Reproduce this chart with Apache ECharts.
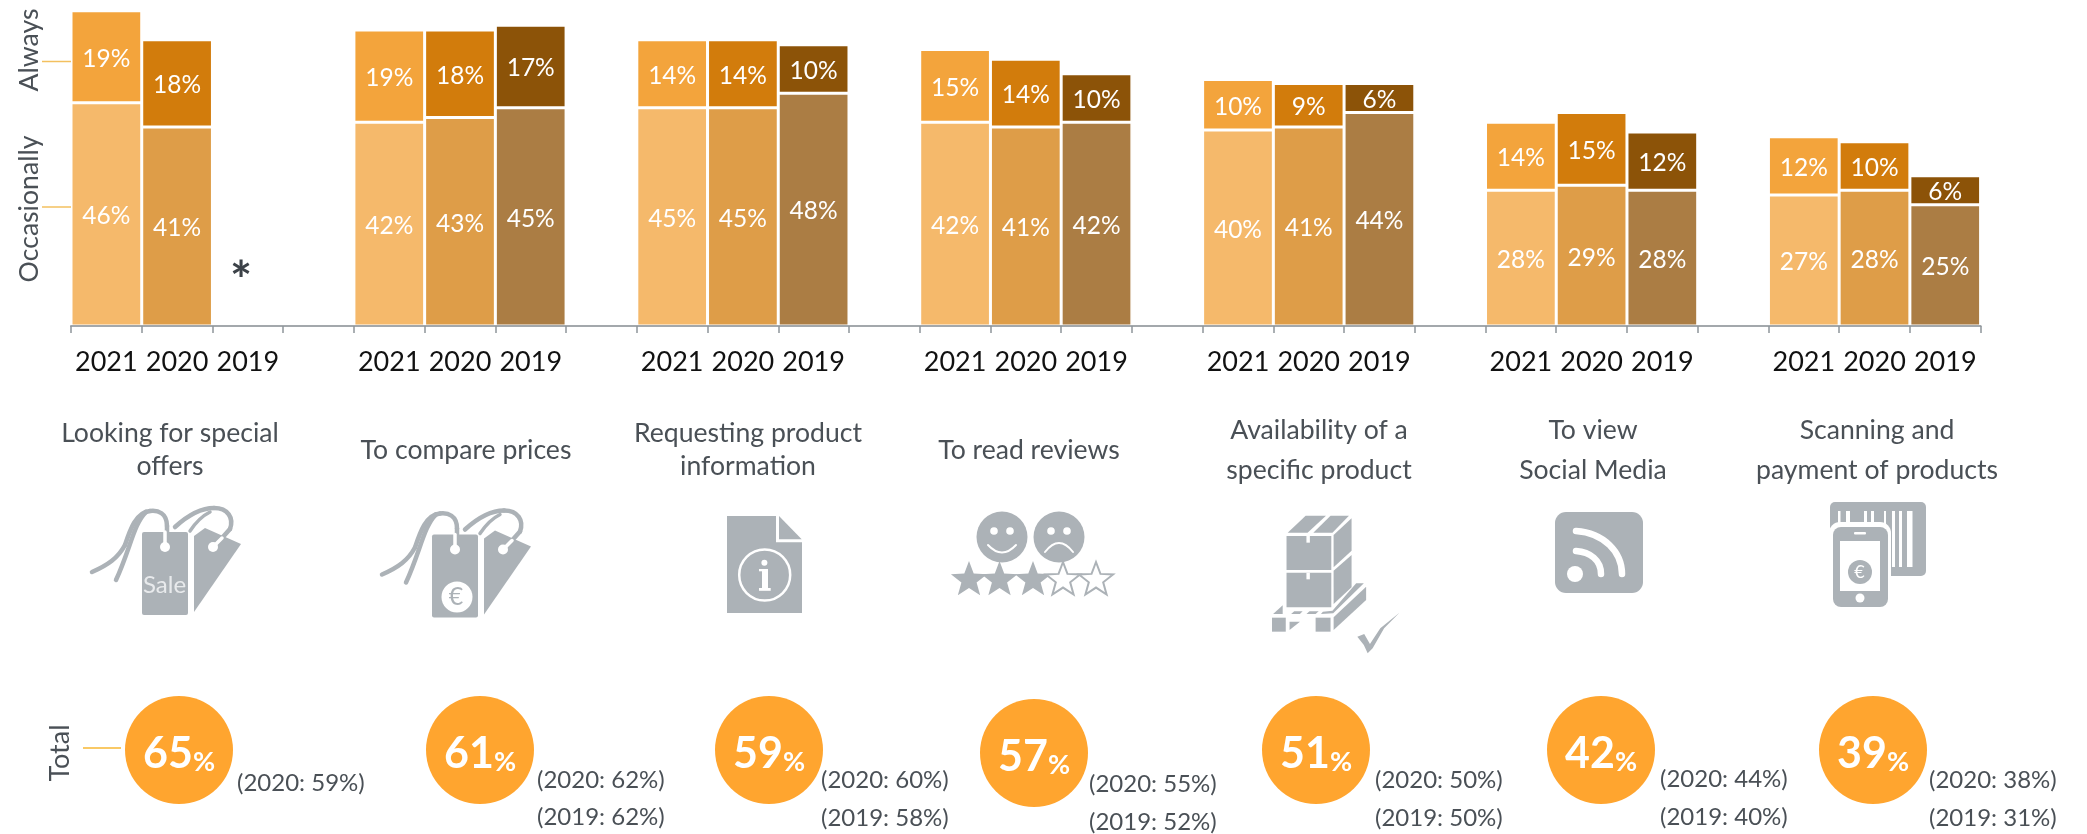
<!DOCTYPE html>
<html><head><meta charset="utf-8">
<style>html,body{margin:0;padding:0;background:#fff}#c{width:2087px;height:834px}</style>
<script src="https://cdn.jsdelivr.net/npm/echarts@6/dist/echarts.min.js"></script>
</head><body><div id="c"></div>
<script>
const years = ['2021','2020','2019'];
const occasionally = [[46,41,null],[42,43,45],[45,45,48],[42,41,42],[40.4,41,44],[28,29,28],[27,28,25]];
const always = [[19,18,null],[19,18,17],[14,14,10],[15,14,10],[10.4,9,6],[14,15,12],[12,10,6]];
const titles = [['Looking for special','offers'],['To compare prices'],['Requesting product','information'],['To read reviews'],['Availability of a','specific product'],['To view','Social Media'],['Scanning and','payment of products']];
const totals = [65,61,59,57,51,42,39];
const prev2020 = [59,62,60,55,50,44,38];
const prev2019 = [null,62,58,52,50,40,31];

const FONT='Lato', TXT='#4A5056', ICON='#ACB2B7';
const occColors={'2021':'#F5B96B','2020':'#DE9D48','2019':'#AB7D44'};
const alwColors={'2021':'#F3A43C','2020':'#D27C0C','2019':'#8C5308'};

const cats=[],occData=[],alwData=[];
occasionally.forEach((g,i)=>{
  years.forEach((y,j)=>{
    cats.push(y);
    occData.push({value:g[j],itemStyle:{color:occColors[y]}});
    alwData.push({value:always[i][j],itemStyle:{color:alwColors[y]}});
  });
  if(i<occasionally.length-1){cats.push('');occData.push({value:null});alwData.push({value:null});}
});

// page layout of the annotation row
const titleLayout=[[170,[433,466]],[466,[450]],[748,[433,466]],[1029,[450]],[1319,[430,470]],[1593,[430,470]],[1877,[430,470]]];
const badgeLayout=[[179,750],[480,750],[769,750],[1034,753],[1316,750],[1601,750],[1873,750]];
const prevLayout=[[237,[783]],[537,[780,817]],[821,[780,818]],[1089,[784,822]],[1375,[780,818]],[1660,[779,817]],[1929,[780,818]]];

const g=[];
const text=(t,x,y,size,o={})=>g.push({type:'text',x,y,rotation:o.rot||0,z:o.z||20,style:{text:t,fontFamily:FONT,fontSize:size,fontWeight:o.w||'normal',fill:o.fill||TXT,align:o.align||'center',verticalAlign:'middle'}});
const line=(x1,y1,x2,y2,stroke,w)=>g.push({type:'line',z:10,shape:{x1,y1,x2,y2},style:{stroke,lineWidth:w}});
const poly=(points,fill,o={})=>g.push({type:'polygon',z:o.z||10,shape:{points},style:{fill:fill||ICON,stroke:o.stroke||null,lineWidth:o.lw||0}});
const circ=(cx,cy,r,fill,o={})=>g.push({type:'circle',z:o.z||10,shape:{cx,cy,r},style:{fill:fill,stroke:o.stroke||null,lineWidth:o.lw||0}});
const rect=(x,y,width,height,fill,r=0,o={})=>g.push({type:'rect',z:o.z||10,shape:{x,y,width,height,r},style:{fill:fill,stroke:o.stroke||null,lineWidth:o.lw||0}});
// strokes a small M/L/C/Q outline as graphic segments
function path(d,stroke,w,dx=0,dy=0,z=10){
  const toks=d.match(/[MLCQ]|-?[\d.]+/g);let i=0,x=0,y=0,cmd='';
  const n=()=>parseFloat(toks[i++]);
  const style={fill:'none',stroke,lineWidth:w,lineCap:'round'};
  while(i<toks.length){
    if(/[MLCQ]/.test(toks[i]))cmd=toks[i++];
    if(cmd==='M'){x=n()+dx;y=n()+dy;}
    else if(cmd==='L'){const a=n()+dx,b=n()+dy;g.push({type:'line',z,shape:{x1:x,y1:y,x2:a,y2:b},style});x=a;y=b;}
    else if(cmd==='C'){const c1=n()+dx,c2=n()+dy,c3=n()+dx,c4=n()+dy,a=n()+dx,b=n()+dy;g.push({type:'bezierCurve',z,shape:{x1:x,y1:y,cpx1:c1,cpy1:c2,cpx2:c3,cpy2:c4,x2:a,y2:b},style});x=a;y=b;}
    else if(cmd==='Q'){const c1=n()+dx,c2=n()+dy,a=n()+dx,b=n()+dy;g.push({type:'bezierCurve',z,shape:{x1:x,y1:y,cpx1:c1,cpy1:c2,x2:a,y2:b},style});x=a;y=b;}
  }
}

// side labels
text('Always',29,50,26.6,{rot:-Math.PI/2*3});
text('Occasionally',29,209,26.6,{rot:-Math.PI/2*3});
text('Total',60,753,27,{rot:-Math.PI/2*3});
line(42,61.5,71,61.5,'#F3C05F',1.5);
line(42,207,71,207,'#F3C05F',1.5);
line(83,748,121,748,'#F7B733',1.5);
text('*',241,282,52,{fill:'#3C4248',w:'bold'});

// category titles
titles.forEach((t,i)=>{const [x,ys]=titleLayout[i];t.forEach((s,k)=>text(s,x,ys[k],26.6));});

// totals + previous years
totals.forEach((v,i)=>{
  const [x,y]=badgeLayout[i];
  circ(x,y,54,'#FFA52F');
  g.push({type:'text',x,y:y+4,z:20,style:{text:`{a|${v}}{b|%}`,align:'center',verticalAlign:'middle',rich:{
    a:{fontFamily:FONT,fontSize:43,fontWeight:'bold',fill:'#fff'},
    b:{fontFamily:FONT,fontSize:27,fontWeight:'bold',fill:'#fff',verticalAlign:'bottom'}}}});
  const [px,pys]=prevLayout[i];
  const lines=['(2020: '+prev2020[i]+'%)'];
  if(prev2019[i]!=null)lines.push('(2019: '+prev2019[i]+'%)');
  lines.forEach((s,k)=>text(s,px,pys[k],24,{align:'left'}));
});

// price-tag icon
function tag(dx,dy){
  poly([[194+dx,536+dy],[205+dx,528+dy],[241+dx,544+dy],[194+dx,612+dy]]);
  rect(142+dx,532+dy,46,83,ICON,2);
  path('M167 532 L167 526 C167 513 158 510 150 511 C136 512 130 530 125 545 C118 558 108 565 92 572',ICON,4.5,dx,dy);
  path('M146 512 C134 523 130 550 116 580',ICON,4.5,dx,dy);
  path('M222 538 L230 529 C234 518 228 508 214 508 C200 508 186 517 175 527',ICON,4.5,dx,dy);
  path('M210 512 C202 516 196 522 190 531',ICON,3.5,dx,dy);
  path('M165 532 L165 545','#fff',3.5,dx,dy,11);
  path('M222 538 L213 547','#fff',3.5,dx,dy,11);
  circ(165+dx,547+dy,5,'#fff',{z:11});
  circ(213+dx,547+dy,5,'#fff',{z:11});
}
tag(0,0);
text('Sale',164.5,585,24,{fill:'#E8EAEC',z:21});
tag(290,2.5);
circ(457,597,15.5,'#fff',{z:11});
text('€',456,597,25,{fill:ICON,z:21});

// info document icon
poly([[727,516],[776,516],[776,542.3],[802,542.3],[802,613],[727,613]]);
poly([[779,516],[801.7,539.3],[779,539.3]]);
circ(764.7,575,25.5,'none',{stroke:'#fff',lw:2.5,z:11});
circ(764.4,562.7,3,'#fff',{z:12});
rect(762,569,6,20,'#fff',0,{z:12});
rect(759,569,8,2.3,'#fff',0,{z:12});
rect(759,588,11.7,2.8,'#fff',0,{z:12});

// faces + stars
[[1002,1],[1059,-1]].forEach(([cx,m])=>{
  circ(cx,537,25.5,ICON);
  circ(cx-8,531,3.8,'#fff',{z:11});circ(cx+8,531,3.8,'#fff',{z:11});
  path(m>0?`M${cx-14} 545 Q${cx} 560 ${cx+14} 545`:`M${cx-14} 552 Q${cx} 534 ${cx+14} 552`,'#fff',2,0,0,11);
});
function star(cx,cy,R){const p=[];for(let i=0;i<10;i++){const r=i%2?R*0.42:R,a=-Math.PI/2+i*Math.PI/5;p.push([cx+r*Math.cos(a),cy+r*Math.sin(a)]);}return p;}
[969,999.5,1033].forEach(x=>poly(star(x,580,19),ICON,{z:12}));
[1063,1096].forEach(x=>poly(star(x,580,18),'#fff',{stroke:ICON,lw:2,z:12}));

// pallet icon
const Z=pts=>pts.map(([x,y])=>[x/2.613+900,y/3+480]);
[[[1010,168],[1127,168],[1127,270],[1010,270]],[[1010,278],[1127,278],[1127,382],[1010,382]],
 [[1013,158],[1060,107],[1113,107],[1065,158]],[[1080,158],[1125,107],[1173,107],[1130,158]],
 [[1133,165],[1180,115],[1180,212],[1133,262]],[[1133,272],[1180,225],[1180,322],[1133,372]],
 [[1192,310],[1212,310],[1132,400],[1100,402],[1105,395],[1130,392]],
 [[975,402],[1000,376],[1000,402]],[[1022,402],[1030,394],[1052,394],[1045,402]],[[1062,402],[1070,394],[1094,394],[1086,402]],
 [[972,413],[1008,413],[1008,455],[972,455]],[[1018,425],[1045,425],[1018,450]],[[1086,413],[1125,413],[1125,455],[1086,455]],
 [[1133,412],[1218,320],[1218,360],[1133,450]],
 [[1195,470],[1213,462],[1228,492],[1255,445],[1305,398],[1265,445],[1235,505],[1222,520],[1212,495]]
].forEach(p=>poly(Z(p)));
[[1062,168],[1062,278]].forEach(([x,y])=>poly(Z([[x,y],[x+9,y],[x+9,y+20],[x,y+20]]),'#fff',{z:11}));

// RSS icon
rect(1555,512,88,81,ICON,11);
circ(1575,574,8,'#fff',{z:11});
path('M1576 551 C1590 552 1601 560 1601 574','#fff',6.5,0,0,11);
path('M1576 531 C1604 533 1622 552 1622 574','#fff',6.5,0,0,11);

// phone + barcode icon
rect(1830,502,96,74,ICON,5);
[[1838,2.5],[1846,4],[1864,3],[1871,3],[1884,2],[1892,3],[1899,3],[1907,5.5]].forEach(([x,w])=>rect(x,511,w,x>1890?56:20,'#fff',0,{z:11}));
rect(1829,522,62,90,'#fff',11,{z:12});
rect(1833,527,55,80,ICON,8,{z:13});
rect(1840,541,40,50,'#fff',0,{z:14});
rect(1854,532,12,2.5,'#fff',1,{z:14});
circ(1860,598,4.5,'#fff',{z:14});
circ(1860,572,12,ICON,{z:15});
text('€',1859.5,572,18,{fill:'#fff',z:21});

const chart=echarts.init(document.getElementById('c'),null,{renderer:'canvas'});
const lab={show:true,position:'inside',offset:[0,2],formatter:p=>Math.round(p.value)+'%',color:'#fff',fontFamily:FONT,fontSize:24.5};
chart.setOption({
  animation:false,
  backgroundColor:'#fff',
  grid:{left:71,width:1909.6,top:1,height:325,containLabel:false},
  xAxis:{type:'category',data:cats,z:5,boundaryGap:true,
    axisLine:{show:true,lineStyle:{color:'#A3A8AC',width:2}},
    axisTick:{show:true,alignWithLabel:false,interval:0,length:7,lineStyle:{color:'#8F959A',width:1.5}},
    axisLabel:{show:true,interval:0,margin:23,color:'#111',fontFamily:FONT,fontSize:27,hideOverlap:false}},
  yAxis:{type:'value',min:0,max:67,show:false},
  series:[
    {name:'Occasionally',type:'bar',stack:'s',barWidth:'100%',data:occData,label:lab,itemStyle:{borderColor:'#fff',borderWidth:1.5}},
    {name:'Always',type:'bar',stack:'s',barWidth:'100%',data:alwData,label:lab,itemStyle:{borderColor:'#fff',borderWidth:1.5}}
  ],
  graphic:{elements:g}
});
</script></body></html>
